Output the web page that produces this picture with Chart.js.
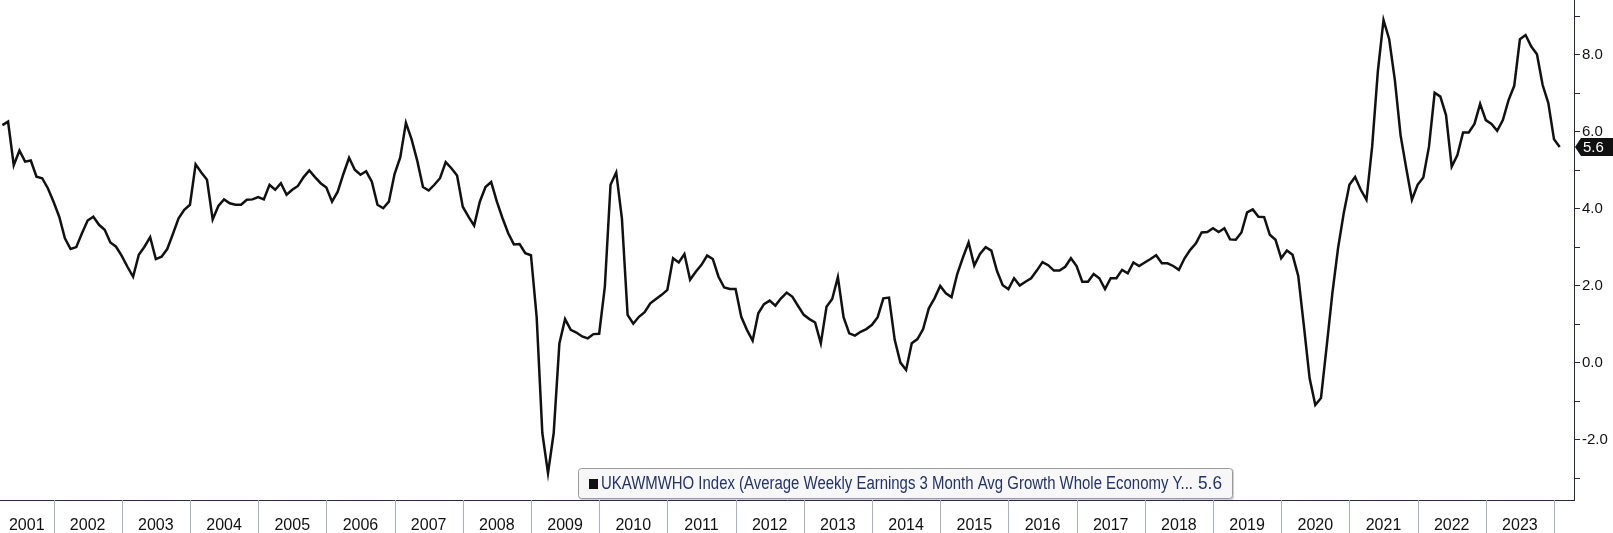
<!DOCTYPE html>
<html>
<head>
<meta charset="utf-8">
<script src="https://cdn.jsdelivr.net/npm/chart.js@4.4.1/dist/chart.umd.min.js"></script>
<style>
  html, body { margin: 0; padding: 0; background: #fff; }
  #wrap { width: 1613px; height: 533px; }
</style>
</head>
<body>
<div id="wrap"><canvas id="aweChart" width="1613" height="533"></canvas></div>
<script>
// UKAWMWHO Index, monthly, Mar 2001 .. Jan 2024
const startYear = 2001;
const startMonth = 3;

const aweValues = [
  6.17, 6.26, 5.13, 5.51, 5.22, 5.25, 4.83, 4.79, 4.53, 4.18,
  3.79, 3.23, 2.95, 3.00, 3.36, 3.69, 3.79, 3.58, 3.45, 3.12, 3.01, 2.77,
  2.49, 2.23, 2.80, 3.01, 3.26, 2.69, 2.75, 2.95, 3.34, 3.75, 3.97, 4.10,
  5.15, 4.94, 4.75, 3.72, 4.07, 4.24, 4.14, 4.10, 4.10, 4.23, 4.24, 4.30,
  4.24, 4.62, 4.49, 4.66, 4.36, 4.49, 4.59, 4.82, 4.99, 4.82, 4.66, 4.55,
  4.18, 4.44, 4.90, 5.32, 5.01, 4.88, 4.97, 4.70, 4.10, 4.01, 4.18, 4.90,
  5.33, 6.23, 5.80, 5.24, 4.56, 4.47, 4.62, 4.79, 5.21, 5.05, 4.86, 4.05,
  3.79, 3.56, 4.18, 4.56, 4.69, 4.18, 3.75, 3.36, 3.07, 3.08, 2.84, 2.79,
  1.19, -1.83, -2.87, -1.83, 0.50, 1.13, 0.85, 0.78, 0.68, 0.63, 0.74, 0.75,
  1.97, 4.62, 4.94, 3.75, 1.24, 1.01, 1.19, 1.31, 1.54, 1.65, 1.76, 1.89,
  2.71, 2.60, 2.82, 2.15, 2.36, 2.54, 2.78, 2.69, 2.23, 1.95, 1.91, 1.91,
  1.19, 0.85, 0.57, 1.28, 1.52, 1.61, 1.48, 1.67, 1.82, 1.71, 1.47, 1.24,
  1.13, 1.04, 0.50, 1.45, 1.65, 2.22, 1.18, 0.76, 0.70, 0.80, 0.87, 0.98,
  1.18, 1.67, 1.69, 0.59, 0.00, -0.19, 0.50, 0.61, 0.87, 1.41, 1.67, 1.99,
  1.80, 1.70, 2.30, 2.73, 3.12, 2.52, 2.82, 3.00, 2.91, 2.38, 2.01, 1.91,
  2.19, 2.00, 2.10, 2.19, 2.39, 2.61, 2.53, 2.39, 2.39, 2.49, 2.71, 2.51,
  2.10, 2.10, 2.30, 2.19, 1.91, 2.19, 2.19, 2.41, 2.32, 2.60, 2.51, 2.60,
  2.69, 2.79, 2.58, 2.58, 2.51, 2.41, 2.71, 2.93, 3.10, 3.38, 3.39, 3.49,
  3.39, 3.49, 3.20, 3.19, 3.38, 3.90, 3.98, 3.79, 3.78, 3.32, 3.19, 2.71,
  2.91, 2.80, 2.25, 0.94, -0.41, -1.10, -0.92, 0.42, 1.80, 2.97, 3.88, 4.62,
  4.82, 4.49, 4.23, 5.61, 7.56, 8.90, 8.40, 7.34, 5.91, 5.05, 4.23, 4.62,
  4.81, 5.61, 7.01, 6.91, 6.43, 5.09, 5.39, 5.98, 5.98, 6.20, 6.72, 6.30,
  6.20, 6.02, 6.30, 6.82, 7.19, 8.40, 8.51, 8.21, 8.01, 7.21, 6.74, 5.80,
  5.6
];

const yearLabels = [2001, 2002, 2003, 2004, 2005, 2006, 2007, 2008, 2009, 2010, 2011, 2012,
  2013, 2014, 2015, 2016, 2017, 2018, 2019, 2020, 2021, 2022, 2023];
const yTickValues = [-3, -2, -1, 0, 1, 2, 3, 4, 5, 6, 7, 8, 9];
const yLabelValues = [-2, 0, 2, 4, 6, 8];
const seriesName = "UKAWMWHO Index (Average Weekly Earnings 3 Month Avg Growth Whole Economy Y...";

const xMin = 2001.215;
const xMax = 2024.293;
const yMin = -3.57;
const yMax = 9.42;

const axisColor = "#262b44";
const fontFamily = "'Liberation Sans', Arial, sans-serif";

// month end positions as fractional years
const points = aweValues.map((v, i) => {
  const m = startMonth - 1 + i;
  const yr = startYear + Math.floor(m / 12);
  const mo = (m % 12) + 1;
  return { x: yr + mo / 12, y: v };
});

// separators, legend box, last value tag
const decorations = {
  id: "decorations",
  afterDraw(chart) {
    const { ctx, chartArea, scales } = chart;
    const x = scales.x, y = scales.y;
    ctx.save();

    ctx.strokeStyle = "#aab0c6";
    ctx.lineWidth = 1;
    for (let yr = yearLabels[0] + 1; yr <= yearLabels[yearLabels.length - 1] + 1; yr++) {
      const px = Math.round(x.getPixelForValue(yr)) + 0.5;
      ctx.beginPath();
      ctx.moveTo(px, chartArea.bottom);
      ctx.lineTo(px, chart.height);
      ctx.stroke();
    }

    // legend
    const lx = 578, ly = 468, lw = 655, lh = 31;
    ctx.fillStyle = "rgba(0,0,0,0.18)";
    ctx.beginPath();
    ctx.roundRect(lx + 1, ly + 1, lw, lh, 3);
    ctx.fill();
    ctx.fillStyle = "#f7f7f7";
    ctx.strokeStyle = "#9a9a9a";
    ctx.beginPath();
    ctx.roundRect(lx + 0.5, ly + 0.5, lw - 1, lh - 1, 3);
    ctx.fill();
    ctx.stroke();
    ctx.fillStyle = "#111";
    ctx.fillRect(lx + 11, ly + 11, 9, 10);
    ctx.fillStyle = "#22336b";
    ctx.font = "18px " + fontFamily;
    ctx.textBaseline = "middle";
    ctx.textAlign = "left";
    ctx.fillText(seriesName, lx + 23, ly + lh / 2 + 1, 592);
    const lastVal = aweValues[aweValues.length - 1];
    ctx.fillText(lastVal.toFixed(1), lx + 620, ly + lh / 2 + 1, 24);

    // value tag on the axis
    const cy = y.getPixelForValue(lastVal);
    const tx = chartArea.right + 1;
    ctx.fillStyle = "#111";
    ctx.beginPath();
    ctx.moveTo(tx, cy);
    ctx.lineTo(tx + 6, cy - 9);
    ctx.lineTo(chart.width, cy - 9);
    ctx.lineTo(chart.width, cy + 9);
    ctx.lineTo(tx + 6, cy + 9);
    ctx.closePath();
    ctx.fill();
    ctx.fillStyle = "#fff";
    ctx.font = "15px " + fontFamily;
    ctx.fillText(lastVal.toFixed(1), tx + 8, cy + 1);

    ctx.restore();
  }
};

new Chart(document.getElementById("aweChart"), {
  type: "line",
  data: {
    datasets: [{
      label: seriesName,
      data: points,
      borderColor: "#111111",
      borderWidth: 2.5,
      pointRadius: 0,
      tension: 0,
      fill: false
    }]
  },
  options: {
    responsive: false,
    animation: false,
    devicePixelRatio: 1,
    layout: { padding: 0 },
    plugins: {
      legend: { display: false },
      tooltip: { enabled: false }
    },
    scales: {
      x: {
        type: "linear",
        position: "bottom",
        min: xMin,
        max: xMax,
        afterBuildTicks: s => {
          s.ticks = yearLabels.map(yr => ({ value: (Math.max(yr, xMin) + yr + 1) / 2 }));
        },
        ticks: {
          autoSkip: false,
          maxRotation: 0,
          padding: 8,
          color: "#111",
          font: { family: fontFamily, size: 16 },
          callback: (v, i) => String(yearLabels[i])
        },
        grid: { display: false },
        border: { display: true, color: axisColor, width: 1 },
        afterFit: s => { s.height = 33; s.paddingLeft = 0; s.paddingRight = 0; }
      },
      y: {
        position: "right",
        min: yMin,
        max: yMax,
        afterBuildTicks: s => {
          s.ticks = yTickValues.map(v => ({ value: v }));
        },
        ticks: {
          padding: 2,
          color: "#111",
          font: { family: fontFamily, size: 15 },
          callback: v => yLabelValues.includes(v) ? v.toFixed(1) : ""
        },
        grid: { drawOnChartArea: false, drawTicks: true, tickLength: 6, color: axisColor, tickColor: axisColor },
        border: { display: true, color: axisColor, width: 1 },
        afterFit: s => { s.width = 39; s.paddingTop = 0; s.paddingBottom = 0; }
      }
    }
  },
  plugins: [decorations]
});
</script>
</body>
</html>
